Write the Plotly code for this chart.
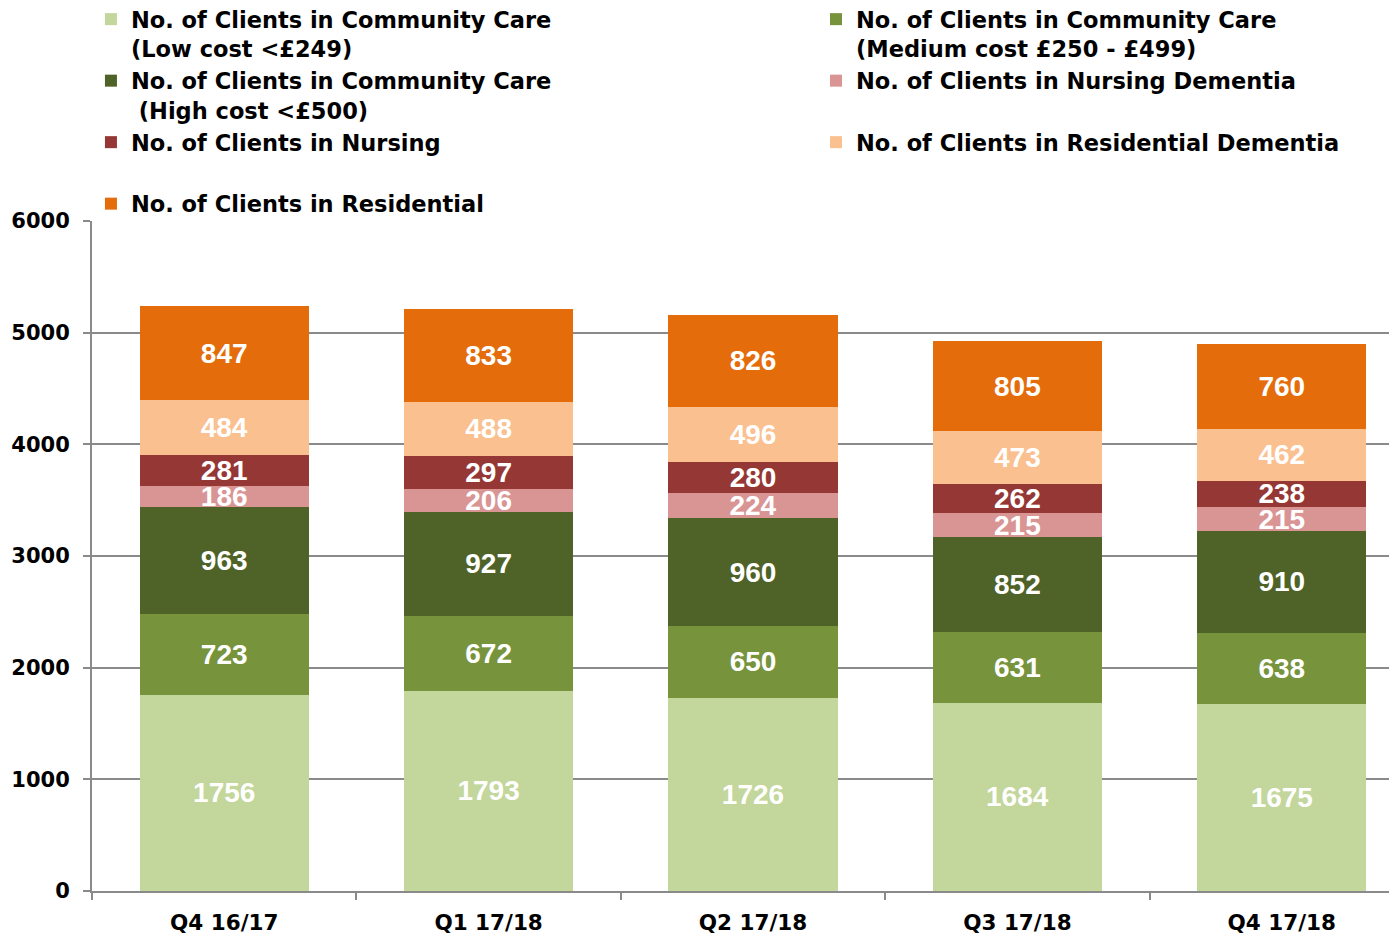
import plotly.graph_objects as go

quarters = ['Q4 16/17', 'Q1 17/18', 'Q2 17/18', 'Q3 17/18', 'Q4 17/18']

low_cost = [1756, 1793, 1726, 1684, 1675]
medium_cost = [723, 672, 650, 631, 638]
high_cost = [963, 927, 960, 852, 910]
nursing_dementia = [186, 206, 224, 215, 215]
nursing = [281, 297, 280, 262, 238]
residential_dementia = [484, 488, 496, 473, 462]
residential = [847, 833, 826, 805, 760]

# (legend name, values, colour, which legend column)
series = [
    ('No. of Clients in Community Care<br>(Low cost &lt;£249)', low_cost, '#C3D69B', 'legend'),
    ('No. of Clients in Community Care<br>(Medium cost £250 - £499)', medium_cost, '#77933C', 'legend2'),
    ('No. of Clients in Community Care<br>\u00a0(High cost &lt;£500)', high_cost, '#4F6228', 'legend'),
    ('No. of Clients in Nursing Dementia<br>\u00a0', nursing_dementia, '#D99594', 'legend2'),
    ('No. of Clients in Nursing<br>\u00a0', nursing, '#953735', 'legend'),
    ('No. of Clients in Residential Dementia', residential_dementia, '#FAC090', 'legend2'),
    ('No. of Clients in Residential', residential, '#E46C0A', 'legend'),
]

LABEL_FONT = 'Liberation Sans, Arial, sans-serif'
AXIS_FONT = 'DejaVu Sans, sans-serif'
GREY = '#8a8a8a'

fig = go.Figure()
for name, vals, col, leg in series:
    fig.add_trace(go.Bar(
        x=quarters, y=vals, name=name, legend=leg,
        marker=dict(color=col, line=dict(width=0)),
        text=vals, textposition='inside', insidetextanchor='middle',
        constraintext='none',
        textfont=dict(family=LABEL_FONT, size=28, color='white', weight='bold'),
    ))

legend_style = dict(
    orientation='v', traceorder='normal', valign='top',
    xref='paper', yref='paper', xanchor='left', yanchor='top',
    y=1.3328,
    font=dict(family=AXIS_FONT, size=22.5, color='black', weight='bold'),
    bgcolor='rgba(0,0,0,0)',
)

fig.update_layout(
    barmode='stack',
    bargap=0.36,
    width=1397, height=937,
    margin=dict(l=84, r=0, t=213, b=54, autoexpand=False),
    plot_bgcolor='white', paper_bgcolor='white',
    font=dict(family=AXIS_FONT, color='black'),
    uniformtext=dict(minsize=28, mode='show'),
    showlegend=True,
    legend=dict(legend_style, x=-0.0008),
    legend2=dict(legend_style, x=0.5514),
)

fig.update_xaxes(
    range=[-0.5, 4.466],
    showline=True, linecolor=GREY, linewidth=2,
    ticks='outside', tickson='boundaries', ticklen=7, tickcolor=GREY, tickwidth=2,
    tickfont=dict(family=AXIS_FONT, size=21.5, color='black', weight='bold'),
    ticklabelstandoff=11,
    showgrid=False,
)
fig.update_yaxes(
    range=[0, 6000], dtick=1000,
    showline=True, linecolor=GREY, linewidth=2,
    ticks='outside', ticklen=7, tickcolor=GREY, tickwidth=2,
    showgrid=True, gridcolor=GREY, gridwidth=2,
    zeroline=False,
    tickfont=dict(family=AXIS_FONT, size=21, color='black', weight='bold'),
    ticklabelstandoff=9,
)

fig.write_html("out.html")
